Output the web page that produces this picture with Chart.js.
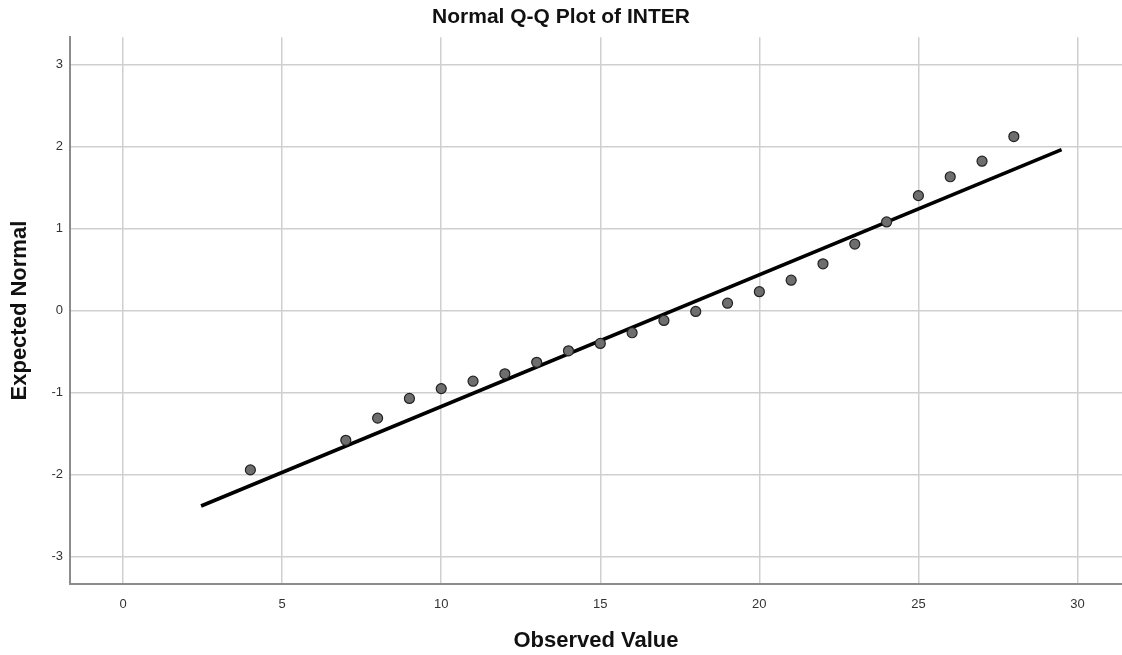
<!DOCTYPE html>
<html>
<head>
<meta charset="utf-8">
<title>Normal Q-Q Plot of INTER</title>
<script src="https://cdn.jsdelivr.net/npm/chart.js@4.4.1/dist/chart.umd.min.js"></script>
<style>
    html, body { margin: 0; padding: 0; background: #ffffff; overflow: hidden; }
    #wrap { width: 1122px; height: 655px; }
</style>
</head>
<body>
<div id="wrap"><canvas id="qqChart"></canvas></div>
<script>
const observed = [4, 7, 8, 9, 10, 11, 12, 13, 14, 15, 16, 17, 18, 19, 20, 21, 22, 23, 24, 25, 26, 27, 28];
const expected = [-1.94, -1.58, -1.31, -1.07, -0.95, -0.86, -0.77, -0.63, -0.49, -0.40, -0.27, -0.12, -0.01, 0.09, 0.23, 0.37, 0.57, 0.81, 1.08, 1.40, 1.63, 1.82, 2.12];

// reference line end points
const lineX = [2.45, 29.5];
const lineY = [-2.38, 1.96];

const xTicks = [0, 5, 10, 15, 20, 25, 30];
const yTicks = [-3, -2, -1, 0, 1, 2, 3];

const ctx = document.getElementById('qqChart');
let qqChart = buildChart(ctx);

function toPoints(xs, ys) {
    return xs.map((x, i) => ({ x: x, y: ys[i] }));
}

function buildChart(current_ctx) {
    return new Chart(current_ctx, {
        type: 'scatter',
        data: {
            datasets: [{
                label: 'Observed',
                data: toPoints(observed, expected),
                pointRadius: 5,
                pointHoverRadius: 5,
                backgroundColor: '#6e6e6e',
                borderColor: '#222222',
                borderWidth: 1.2,
                order: 1
            }, {
                type: 'line',
                label: 'Normal line',
                data: toPoints(lineX, lineY),
                borderColor: '#000000',
                borderWidth: 3.6,
                pointRadius: 0,
                fill: false,
                order: 2
            }]
        },
        options: {
            responsive: true,
            maintainAspectRatio: false,
            animation: false,
            layout: {
                autoPadding: false,
                padding: { left: 0, right: 0, top: 0, bottom: 0 }
            },
            scales: {
                x: {
                    type: 'linear',
                    min: -1.67,
                    max: 31.4,
                    afterBuildTicks: (scale) => {
                        scale.ticks = xTicks.map(v => ({ value: v }));
                    },
                    afterFit: (scale) => {
                        scale.height = 71;
                        scale.paddingLeft = 0;
                        scale.paddingRight = 0;
                    },
                    grid: {
                        color: '#cfcfcf',
                        lineWidth: 1.5,
                        drawTicks: false
                    },
                    border: {
                        color: '#8c8c8c',
                        width: 2
                    },
                    ticks: {
                        padding: 13,
                        color: '#333333',
                        font: { family: 'Liberation Sans, Arial', size: 13 }
                    },
                    title: {
                        display: true,
                        text: 'Observed Value',
                        color: '#111111',
                        font: { family: 'Liberation Sans, Arial', size: 22, weight: 'bold' },
                        padding: { top: 0, bottom: 1 }
                    }
                },
                y: {
                    type: 'linear',
                    min: -3.33,
                    max: 3.33,
                    afterBuildTicks: (scale) => {
                        scale.ticks = yTicks.map(v => ({ value: v }));
                    },
                    afterFit: (scale) => {
                        scale.width = 70;
                        scale.paddingTop = 0;
                        scale.paddingBottom = 0;
                    },
                    grid: {
                        color: '#cfcfcf',
                        lineWidth: 1.5,
                        drawTicks: false
                    },
                    border: {
                        color: '#8c8c8c',
                        width: 2
                    },
                    ticks: {
                        padding: 7,
                        color: '#333333',
                        font: { family: 'Liberation Sans, Arial', size: 13 }
                    },
                    title: {
                        display: true,
                        text: 'Expected Normal',
                        color: '#111111',
                        font: { family: 'Liberation Sans, Arial', size: 22, weight: 'bold' },
                        padding: { top: 7, bottom: 0 }
                    }
                }
            },
            plugins: {
                legend: {
                    display: false
                },
                tooltip: {
                    enabled: false
                },
                title: {
                    display: true,
                    text: 'Normal Q-Q Plot of INTER',
                    color: '#111111',
                    font: { family: 'Liberation Sans, Arial', size: 21, weight: 'bold' },
                    padding: { top: 5, bottom: 7 }
                }
            }
        }
    });
}
</script>
</body>
</html>
